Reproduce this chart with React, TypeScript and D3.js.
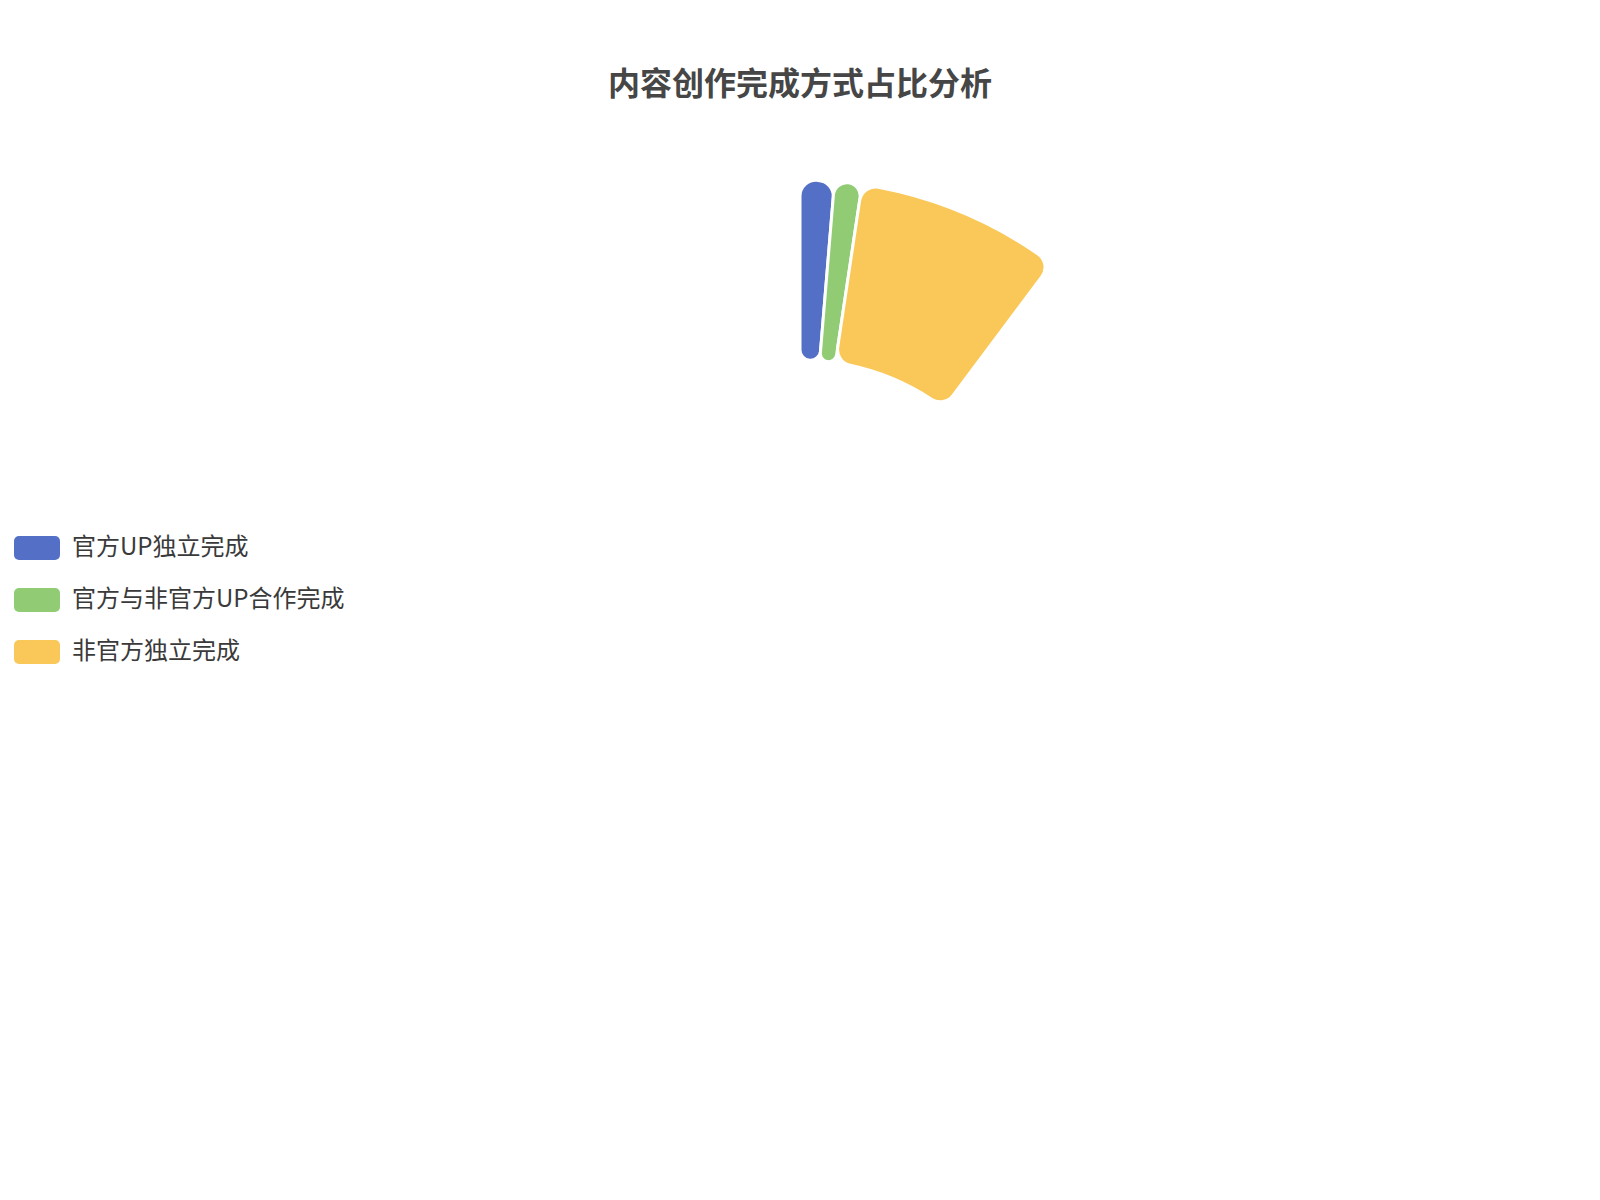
import React from 'react';
import * as d3 from 'd3';

// 完成方式
const categories = ['官方UP独立完成', '官方与非官方UP合作完成', '非官方独立完成'];
const counts = [5, 4, 30];
const colors = ['#5470c6', '#91cc75', '#fac858'];

const title = '内容创作完成方式占比分析';

const width = 1600;
const height = 1200;
const fontFamily = '"Noto Sans CJK SC", "Noto Sans", sans-serif';

export default function App() {
  const cx = width / 2;
  const cy = height / 2;
  const base = Math.min(width, height) / 2;
  const innerR = base * 0.4;
  const outerR = base * 0.7;

  // 扇区只占圆周的一部分
  const spanAngle = (36.8 * Math.PI) / 180;

  const rows = categories.map((name, i) => ({ name, value: counts[i], color: colors[i] }));

  const pie = d3
    .pie<{ name: string; value: number; color: string }>()
    .sort(null)
    .value(d => d.value)
    .startAngle(0)
    .endAngle(spanAngle);

  const arc = d3
    .arc<d3.PieArcDatum<{ name: string; value: number; color: string }>>()
    .innerRadius(innerR)
    .outerRadius(outerR)
    .cornerRadius(16);

  const arcs = pie(rows);

  // 图例
  const legendX = 14;
  const legendStep = 52;
  const legendY = d3
    .scalePoint<string>()
    .domain(categories)
    .range([cy - legendStep, cy + legendStep]);

  return (
    <svg
      width={width}
      height={height}
      style={{ position: 'absolute', left: 0, top: 0, background: '#fff' }}
      fontFamily={fontFamily}
    >
      <text
        x={cx}
        y={81}
        textAnchor="middle"
        dominantBaseline="central"
        fontSize={32}
        fontWeight="bold"
        fill="#464646"
      >
        {title}
      </text>

      <g transform={`translate(${cx},${cy})`}>
        {arcs.map(a => (
          <path key={a.data.name} d={arc(a) ?? ''} fill={a.data.color} stroke="#fff" strokeWidth={3} />
        ))}
      </g>

      <g>
        {rows.map(r => {
          const y = legendY(r.name) ?? 0;
          return (
            <g key={r.name}>
              <rect x={legendX} y={y - 12} width={46} height={24} rx={5} fill={r.color} />
              <text x={legendX + 58} y={y - 4} dominantBaseline="central" fontSize={24} fill="#3a3a3a">
                {r.name}
              </text>
            </g>
          );
        })}
      </g>
    </svg>
  );
}
